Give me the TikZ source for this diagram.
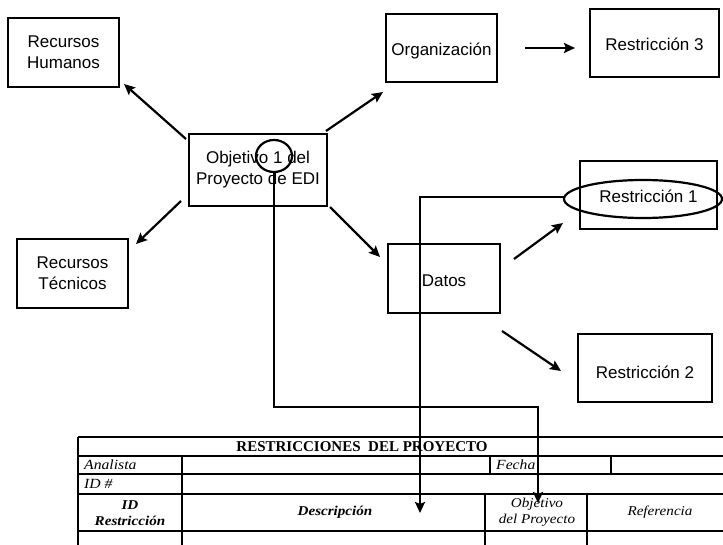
\documentclass[tikz,border=0pt]{standalone}
\usepackage{fontspec}
\setmainfont{Liberation Sans}
\newfontfamily\tabfont[FakeStretch=1.12]{Liberation Serif}
\newfontfamily\titfont{Liberation Serif}
\usetikzlibrary{arrows.meta}
\begin{document}
\begin{tikzpicture}[x=1pt,y=-1pt,
  box/.style={draw,line width=2.2pt,inner sep=0pt,align=center,
    font=\fontsize{17}{21}\selectfont},
  one/.style={text height=16pt,text depth=0pt},
  arr/.style={line width=2.2pt,-{Stealth[length=11pt,width=10pt,inset=2pt]}},
  tline/.style={line width=1.3pt},
  tt/.style={inner sep=0pt,font=\tabfont\fontsize{14}{16}\selectfont\itshape},
  ttb/.style={inner sep=0pt,font=\tabfont\fontsize{13.5}{16}\selectfont\bfseries\itshape,align=center}]
\useasboundingbox (0,0) rectangle (723,545);
\fill[white] (0,0) rectangle (723,545);
% boxes
\node[box,minimum width=111pt,minimum height=69pt] (rh) at (63.5,52.5) {Recursos\\Humanos};
\node[box,minimum width=138pt,minimum height=72pt] (obj) at (258,170) {Objetivo 1 del\\Proyecto de EDI};
\node[box,minimum width=111pt,minimum height=69pt] (rt) at (72.5,273.5) {Recursos\\Técnicos};
\node[box,one,minimum width=111pt,minimum height=68pt] (org) at (441.5,48) {Organización};
\node[box,one,minimum width=129pt,minimum height=68pt] (r3) at (654.5,43) {Restricción 3};
\node[box,one,minimum width=137pt,minimum height=68pt] (r1) at (648.5,195) {Restricción 1};
\node[box,one,minimum width=112pt,minimum height=69pt] (dat) at (444,278.5) {Datos};
\node[box,text height=20pt,text depth=0pt,minimum width=134pt,minimum height=68pt] (r2) at (645,368) {Restricción 2};
% highlight marks
\draw[line width=2.2pt] (274,156) ellipse [x radius=18pt,y radius=16pt];
\coordinate (circ) at (274,172);
\draw[line width=2.2pt] (643,199) ellipse [x radius=79pt,y radius=19pt];
\coordinate (ell) at (564,197);
% table
\draw[tline] (78,437) -- (723,437) (78,456) -- (723,456) (78,474) -- (723,474)
  (78,494) -- (723,494) (78,531) -- (723,531);
\draw[tline] (78,437) -- (78,545) (182,456) -- (182,545)
  (490,456) -- (490,474) (611,456) -- (611,474)
  (485,494) -- (485,545) (587,494) -- (587,545);
\node[inner sep=0pt,font=\titfont\fontsize{15}{16}\selectfont\bfseries] (ttl) at (362,447) {RESTRICCIONES\ \ DEL PROYECTO};
\node[tt,anchor=west] (ana) at (84,465) {Analista};
\node[tt,anchor=west] (idn) at (84,484) {ID \#};
\node[tt,anchor=west] (fec) at (496,465) {Fecha};
\node[ttb] (idr) at (130,513) {ID\\Restricción};
\node[ttb] (des) at (335,512) {Descripción};
\node[tt,align=center,font=\tabfont\fontsize{13.5}{16}\selectfont\itshape] (objp) at (537,512) {Objetivo\\del Proyecto};
\node[tt,font=\tabfont\fontsize{13.5}{16}\selectfont\itshape] (ref) at (660,512) {Referencia};
% arrow end points
\coordinate (a1s) at (186,139); \coordinate (a1e) at (124,84);
\coordinate (a2s) at (181,201); \coordinate (a2e) at (136,244);
\coordinate (a3s) at (326,131); \coordinate (a3e) at (383,92);
\coordinate (a4s) at (330,207); \coordinate (a4e) at (380,257);
\coordinate (a5s) at (525,48); \coordinate (a5e) at (575,48);
\coordinate (a6s) at (514,259); \coordinate (a6e) at (563,223);
\coordinate (a7s) at (502,331); \coordinate (a7e) at (561,371);
\draw[arr] (a1s) -- (a1e);
\draw[arr] (a2s) -- (a2e);
\draw[arr] (a3s) -- (a3e);
\draw[arr] (a4s) -- (a4e);
\draw[arr] (a5s) -- (a5e);
\draw[arr] (a6s) -- (a6e);
\draw[arr] (a7s) -- (a7e);
% connectors to the table
\coordinate (c1) at (274,407); \coordinate (c2) at (538,407); \coordinate (c3) at (538,503);
\draw[arr] (circ) -- (c1) -- (c2) -- (c3);
\coordinate (e1) at (420,197); \coordinate (e2) at (420,513);
\draw[arr] (ell) -- (e1) -- (e2);
\end{tikzpicture}
\end{document}
